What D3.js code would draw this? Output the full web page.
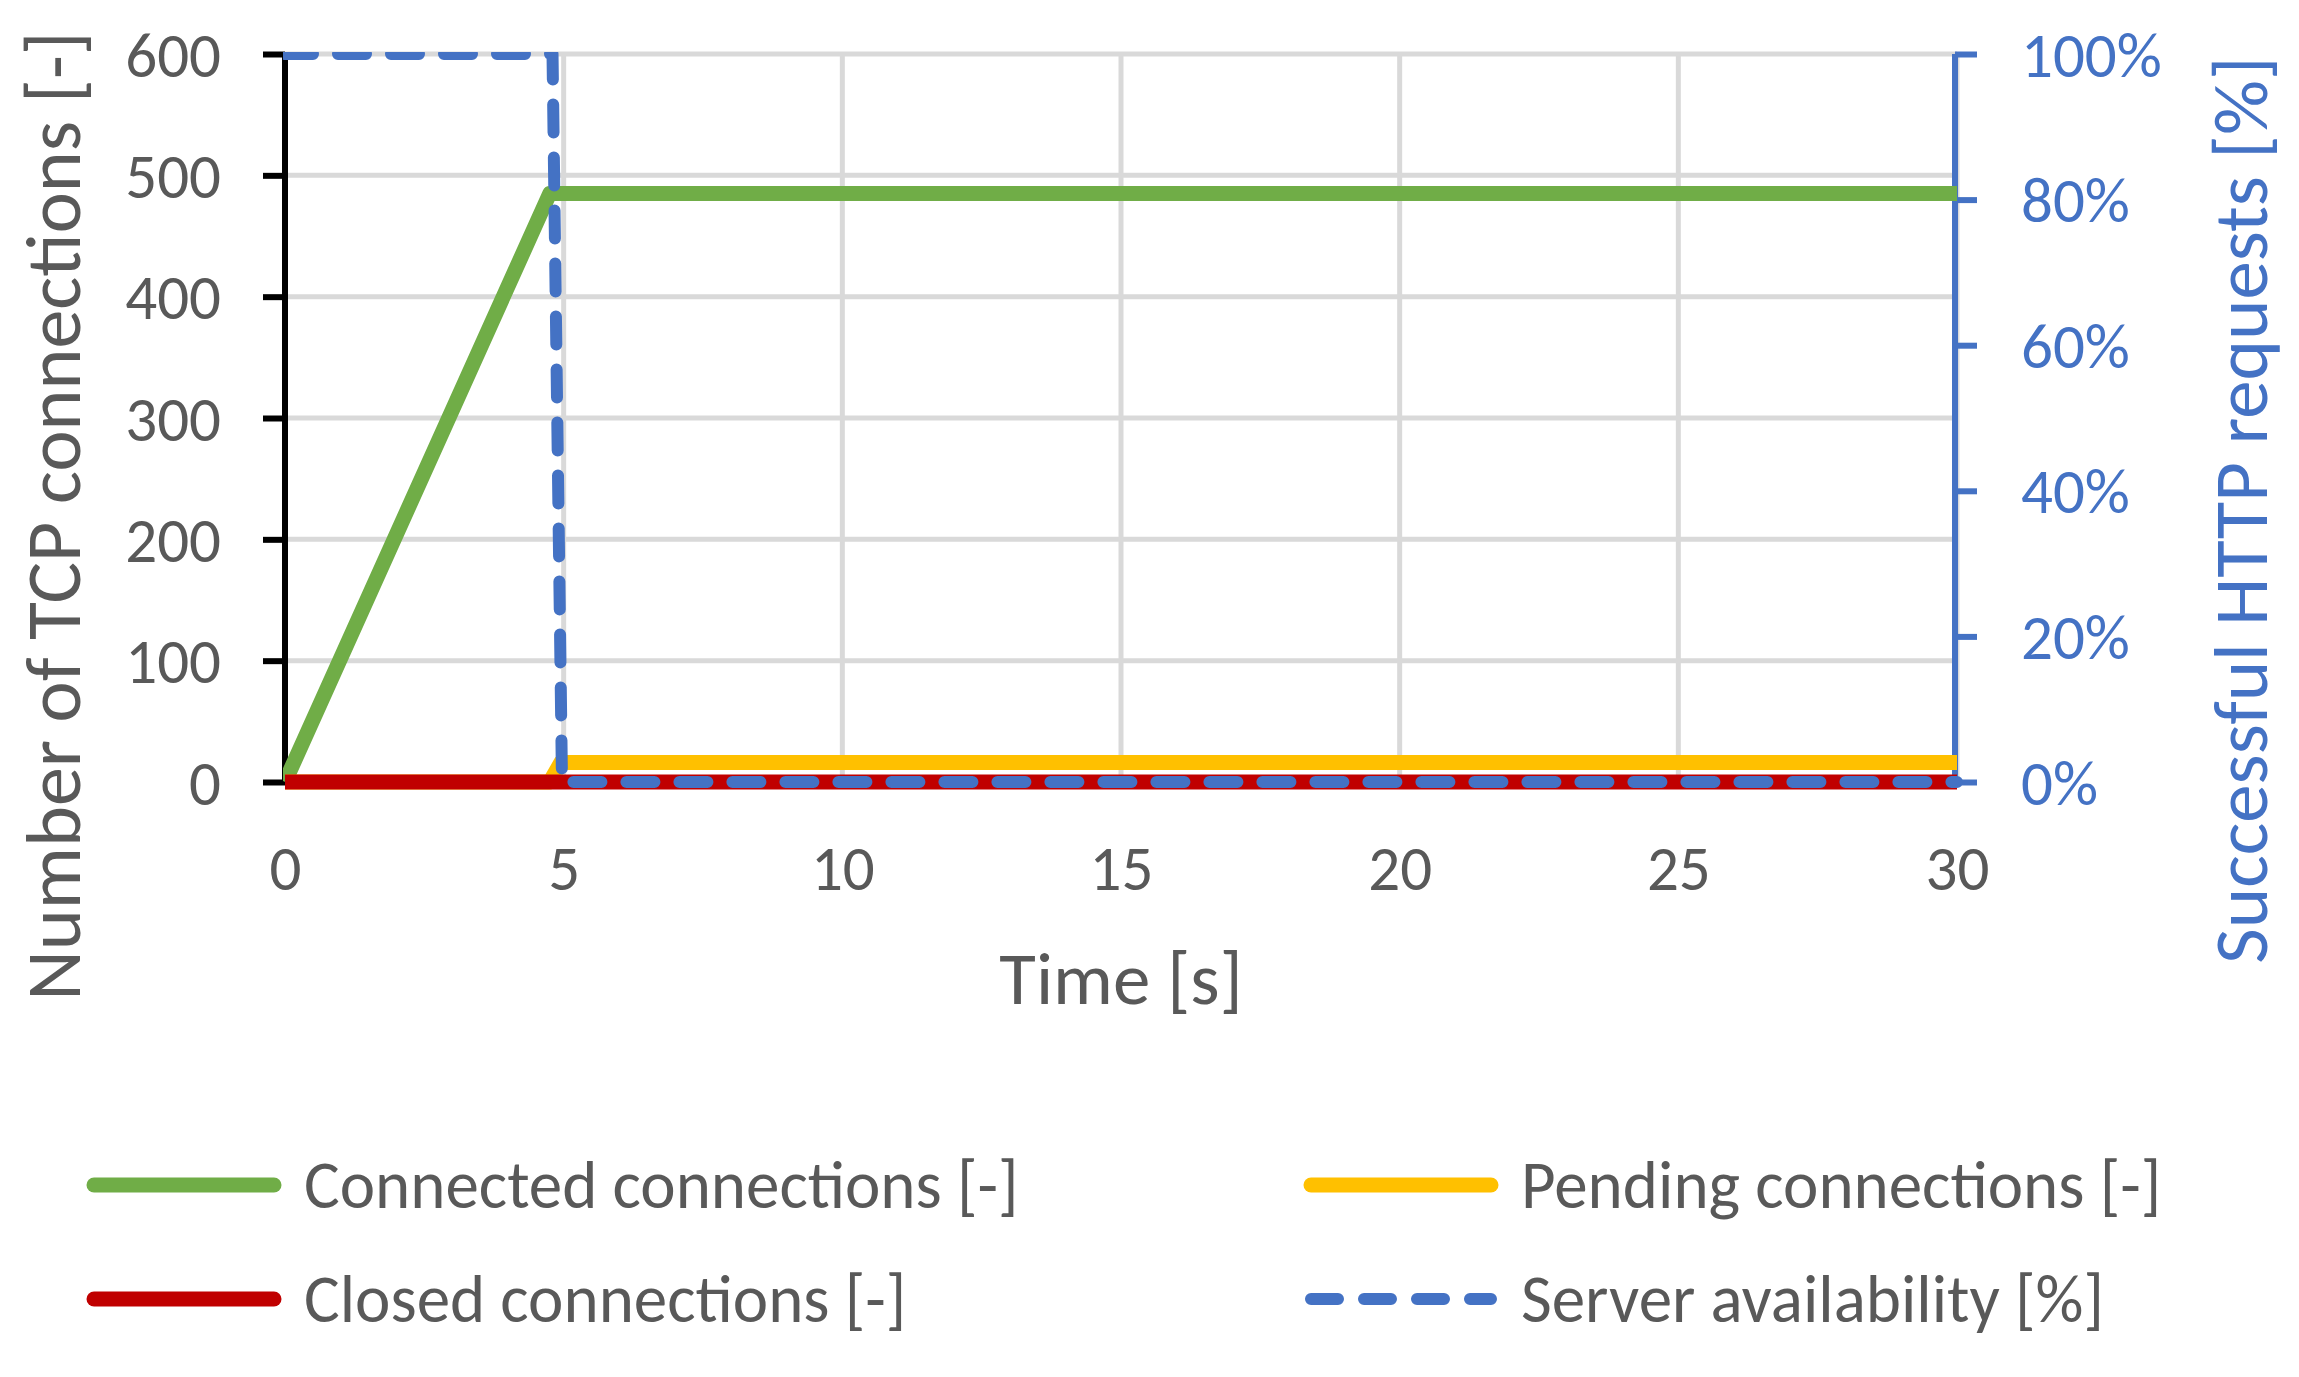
<!DOCTYPE html>
<html>
<head>
<meta charset="utf-8">
<script src="https://cdn.jsdelivr.net/npm/d3@7"></script>
<style>
	body { margin: 0; background: #fff; }
	svg { display: block; }
	svg text { font-family: Carlito, Calibri, Lato, sans-serif; }
</style>
</head>
<body>
<svg width="2299" height="1377"></svg>
<script>
// Data
var connectedT = [0, 4.75, 30];
var connectedV = [0, 485, 485];

var pendingT = [0, 4.75, 4.95, 30];
var pendingV = [0, 0, 16, 16];

var closedT = [0, 30];
var closedV = [0, 0];

var availT = [0, 4.8, 4.97, 30];
var availV = [1, 1, 0, 0];

var xTicks = [0, 5, 10, 15, 20, 25, 30];
var yTicks = [0, 100, 200, 300, 400, 500, 600];
var y2Ticks = [0, 0.2, 0.4, 0.6, 0.8, 1];

var legendNames = ["Connected connections [-]", "Pending connections [-]", "Closed connections [-]", "Server availability [%]"];

var grey = "#595959",
	blue = "#4472C4";

var svg = d3.select("svg");

var x = d3.scaleLinear().domain([0, 30]).range([285, 1957]);
var y = d3.scaleLinear().domain([0, 600]).range([782, 54]);
var y2 = d3.scaleLinear().domain([0, 1]).range([782, 54]);

// Clip like the plot area
svg.append("clipPath").attr("id", "clip")
	.append("rect").attr("x", 283).attr("y", 52).attr("width", 1680).attr("height", 760);

// Gridlines
var grid = svg.append("g").attr("stroke", "#D9D9D9").attr("stroke-width", 5);
grid.selectAll(".h").data(yTicks).enter().append("line")
	.attr("x1", x(0)).attr("x2", x(30))
	.attr("y1", (d) => y(d)).attr("y2", (d) => y(d));
grid.selectAll(".v").data(xTicks.slice(1)).enter().append("line")
	.attr("y1", y(0)).attr("y2", y(600))
	.attr("x1", (d) => x(d)).attr("x2", (d) => x(d));

// Left axis (black)
var yAxis = svg.append("g")
	.attr("transform", "translate(" + x(0) + ",0)")
	.call(d3.axisLeft(y).tickValues(yTicks).tickSize(22).tickPadding(42))
	.attr("font-family", null);
yAxis.select(".domain").attr("stroke", "#000").attr("stroke-width", 6).attr("d", "M0," + y(0) + "V" + y(600));
yAxis.selectAll(".tick line").attr("stroke", "#000").attr("stroke-width", 6);
yAxis.selectAll("text").attr("fill", grey).attr("font-size", 63).attr("dy", "0.35em");

// Right axis (blue)
var y2Axis = svg.append("g")
	.attr("transform", "translate(" + 1955 + ",0)")
	.call(d3.axisRight(y2).tickValues(y2Ticks).tickSize(22).tickPadding(44).tickFormat(d3.format(".0%")))
	.attr("font-family", null);
y2Axis.select(".domain").attr("stroke", blue).attr("stroke-width", 6).attr("d", "M0," + y2(0) + "V" + y2(1));
y2Axis.selectAll(".tick line").attr("stroke", blue).attr("stroke-width", 6);
y2Axis.selectAll("text").attr("fill", blue).attr("font-size", 63).attr("dy", "0.35em");

// Bottom axis, labels only
var xAxis = svg.append("g")
	.attr("transform", "translate(0," + y(0) + ")")
	.call(d3.axisBottom(x).tickValues(xTicks).tickSize(0).tickPadding(86))
	.attr("font-family", null);
xAxis.select(".domain").remove();
xAxis.selectAll("text").attr("fill", grey).attr("font-size", 63).attr("dy", "0.35em");

// Axis titles
svg.append("text")
	.attr("x", (x(0) + x(30)) / 2).attr("y", 1004)
	.attr("text-anchor", "middle").attr("fill", grey).attr("font-size", 75)
	.text("Time [s]");
svg.append("text")
	.attr("transform", "translate(80,516) rotate(-90)")
	.attr("text-anchor", "middle").attr("fill", grey).attr("font-size", 78)
	.text("Number of TCP connections [-]");
svg.append("text")
	.attr("transform", "translate(2267,510) rotate(-90)")
	.attr("text-anchor", "middle").attr("fill", blue).attr("font-size", 77)
	.text("Successful HTTP requests [%]");

// Series
var series = [
	{ name: legendNames[0], t: connectedT, v: connectedV, color: "#70AD47", scale: y },
	{ name: legendNames[1], t: pendingT, v: pendingV, color: "#FFC000", scale: y },
	{ name: legendNames[2], t: closedT, v: closedV, color: "#C00000", scale: y },
	{ name: legendNames[3], t: availT, v: availV, color: blue, scale: y2, dash: true }
];

var plot = svg.append("g").attr("clip-path", "url(#clip)");
series.forEach(function (s) {
	var pts = s.t.map((t, i) => [t, s.v[i]]);
	var line = d3.line().x((d) => x(d[0])).y((d) => s.scale(d[1]));
	plot.append("path")
		.attr("d", line(pts))
		.attr("fill", "none")
		.attr("stroke", s.color)
		.attr("stroke-width", s.dash ? 12 : 15)
		.attr("stroke-linejoin", "round")
		.attr("stroke-linecap", s.dash ? "round" : "butt")
		.attr("stroke-dasharray", s.dash ? "28,25" : null);
});

// Legend, two columns
var legend = svg.append("g");
var item = legend.selectAll("g").data(series).enter().append("g")
	.attr("transform", (d, i) => "translate(" + (i % 2 ? 1305 : 88) + "," + (i < 2 ? 1185 : 1299) + ")");
item.append("line")
	.attr("x1", 6).attr("x2", 186)
	.attr("stroke", (d) => d.color)
	.attr("stroke-width", (d) => d.dash ? 12 : 15)
	.attr("stroke-linecap", "round")
	.attr("stroke-dasharray", (d) => d.dash ? "27,26" : null);
item.append("text")
	.attr("x", 216).attr("dy", "0.35em")
	.attr("fill", grey).attr("font-size", 67)
	.text((d) => d.name);
</script>
</body>
</html>
